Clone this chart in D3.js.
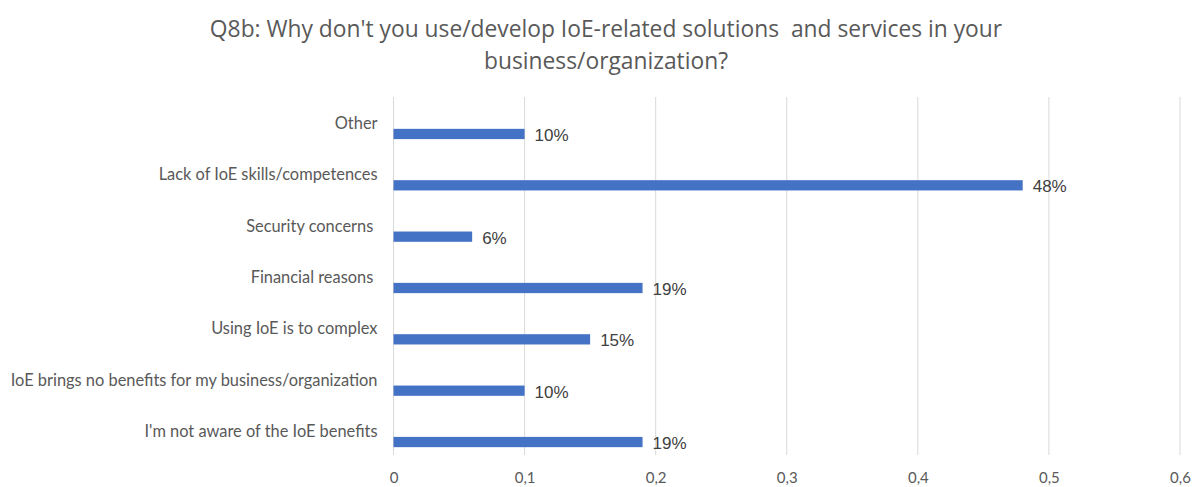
<!DOCTYPE html>
<html>
<head>
<meta charset="utf-8">
<script src="https://cdn.jsdelivr.net/npm/d3@7"></script>
<style>
  html, body { margin: 0; padding: 0; background: #fff; }
  svg { display: block; }
</style>
</head>
<body>
<svg id="chart" width="1192" height="487"></svg>
<script>
// Survey answers, listed top to bottom as drawn
const categories = [
  "Other",
  "Lack of IoE skills/competences",
  "Security concerns ",
  "Financial reasons ",
  "Using IoE is to complex",
  "IoE brings no benefits for my business/organization",
  "I'm not aware of the IoE benefits"
];
const values = [0.10, 0.48, 0.06, 0.19, 0.15, 0.10, 0.19];
const valueLabels = ["10%", "48%", "6%", "19%", "15%", "10%", "19%"];
const xTicks = [0, 0.1, 0.2, 0.3, 0.4, 0.5, 0.6];
const xTickLabels = ["0", "0,1", "0,2", "0,3", "0,4", "0,5", "0,6"];
const titleLines = [
  "Q8b: Why don't you use/develop IoE-related solutions  and services in your",
  "business/organization?"
];

const svg = d3.select("#chart");
const plotLeft = 393.5, plotRight = 1180;
const gridTop = 97, gridBottom = 455;

const x = d3.scaleLinear().domain([0, 0.6]).range([plotLeft, plotRight]);
const y = d3.scaleBand().domain(categories).range([108.3, 467.7]).paddingInner(0.8).paddingOuter(0.4);

const textColor = "#595959";
const labelFont = "Lato, 'Open Sans', sans-serif";

// Title
svg.append("g").selectAll("text").data(titleLines).join("text")
  .attr("x", 606)
  .attr("y", (d, i) => 37 + i * 32)
  .attr("text-anchor", "middle")
  .style("white-space", "pre")
  .attr("font-family", "'Liberation Sans Narrow', 'Open Sans', sans-serif")
  .attr("font-size", 22.8)
  .attr("fill", textColor)
  .text(d => d);

// Vertical gridlines
svg.append("g").selectAll("line").data(xTicks).join("line")
  .attr("x1", d => x(d)).attr("x2", d => x(d))
  .attr("y1", gridTop).attr("y2", gridBottom)
  .attr("stroke", "#d9d9d9").attr("stroke-width", 1);

// X axis tick labels
const xAxis = d3.axisBottom(x).tickValues(xTicks).tickSize(0).tickPadding(0)
  .tickFormat((d, i) => xTickLabels[i]);
const gx = svg.append("g").attr("transform", "translate(0,478)").call(xAxis);
gx.select(".domain").remove();
gx.selectAll("text")
  .attr("dy", "0.32em").attr("y", 0)
  .attr("font-family", labelFont).attr("font-size", 15).attr("fill", textColor);

// Category labels sit above each bar
const yAxis = d3.axisLeft(y).tickSize(0).tickPadding(16);
const gy = svg.append("g").attr("transform", `translate(${plotLeft},0)`).call(yAxis);
gy.select(".domain").remove();
gy.selectAll("text")
  .style("white-space", "pre")
  .attr("dy", "-0.3em")
  .attr("font-family", labelFont).attr("font-size", 16.4).attr("fill", textColor);

// Bars
svg.append("g").selectAll("rect").data(values).join("rect")
  .attr("x", x(0))
  .attr("y", (d, i) => y(categories[i]))
  .attr("width", d => x(d) - x(0))
  .attr("height", y.bandwidth())
  .attr("fill", "#4472c4");

// Value labels
svg.append("g").selectAll("text").data(values).join("text")
  .attr("x", d => x(d) + 10)
  .attr("y", (d, i) => y(categories[i]) + y.bandwidth() / 2 + 7)
  .attr("font-family", "'Liberation Sans', Arial, sans-serif")
  .attr("font-size", 17)
  .attr("fill", "#404040")
  .text((d, i) => valueLabels[i]);
</script>
</body>
</html>
